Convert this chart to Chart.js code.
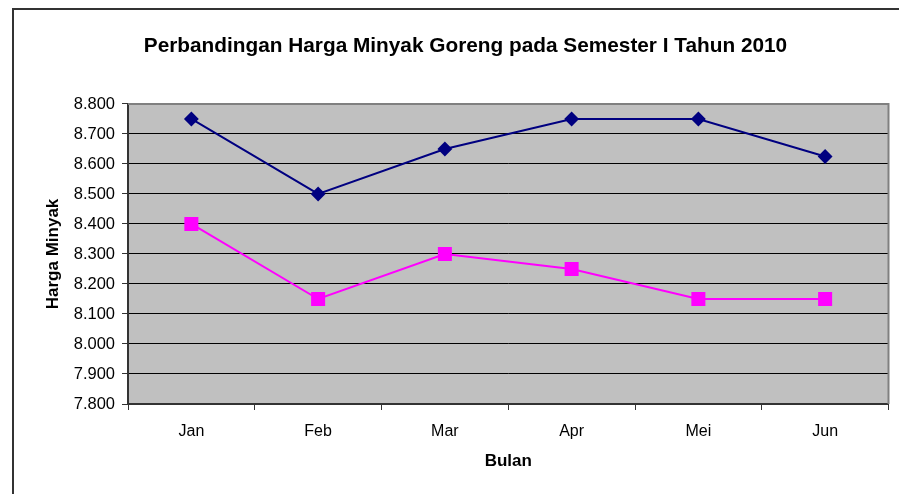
<!DOCTYPE html>
<html>
<head>
<meta charset="utf-8">
<script src="https://cdn.jsdelivr.net/npm/chart.js@4"></script>
<style>
  html, body { margin: 0; padding: 0; background: #fff; }
  #wrap { width: 899px; height: 494px; position: relative; }
</style>
</head>
<body>
<div id="wrap"><canvas id="linechart" width="899" height="494"></canvas></div>
<script>
const bulan = ['Jan', 'Feb', 'Mar', 'Apr', 'Mei', 'Jun']
const hargaSeri1 = [8750, 8500, 8650, 8750, 8750, 8625]
const hargaSeri2 = [8400, 8150, 8300, 8250, 8150, 8150]
const yMin = 7800
const yMax = 8800
const yStep = 100

const fontArial = '"Liberation Sans", Arial, sans-serif'

// 8800 -> "8.800"
function titikRibuan(v)
{
  return String(Math.round(v)).replace(/\B(?=(\d{3})+(?!\d))/g, '.')
}

const latarPlot = {
  id: 'latarPlot',
  beforeDraw(chart) {
    const c = chart.ctx
    const a = chart.chartArea
    c.save()
    // outer frame
    c.strokeStyle = '#333333'
    c.lineWidth = 2
    c.beginPath()
    c.moveTo(13, 494)
    c.lineTo(13, 9)
    c.lineTo(899, 9)
    c.stroke()
    // grey plot area
    c.fillStyle = '#c0c0c0'
    c.fillRect(a.left, a.top, a.right - a.left, a.bottom - a.top)
    c.restore()
  },
  beforeDatasetsDraw(chart) {
    const c = chart.ctx
    const a = chart.chartArea
    c.save()
    c.strokeStyle = '#808080'
    c.lineWidth = 2
    c.beginPath()
    c.moveTo(a.left, a.top)
    c.lineTo(a.right, a.top)
    c.lineTo(a.right, a.bottom)
    c.stroke()
    c.restore()
  }
}

const ctx = document.getElementById('linechart')

new Chart(ctx, {
  type: 'line',
  data: {
    labels: bulan,
    datasets: [{
      label: 'Seri 1',
      data: hargaSeri1,
      borderColor: '#000080',
      backgroundColor: '#000080',
      borderWidth: 2,
      pointStyle: 'rectRot',
      pointRadius: 6,
      pointHoverRadius: 6,
      tension: 0
    }, {
      label: 'Seri 2',
      data: hargaSeri2,
      borderColor: '#ff00ff',
      backgroundColor: '#ff00ff',
      borderWidth: 2,
      pointStyle: 'rect',
      pointRadius: 8.5,
      pointHoverRadius: 8.5,
      tension: 0
    }]
  },
  options: {
    responsive: false,
    animation: false,
    layout: { padding: { left: 40, right: 8, top: 0, bottom: 0 } },
    plugins: {
      legend: { display: false },
      tooltip: { enabled: false },
      title: {
        display: true,
        text: 'Perbandingan Harga Minyak Goreng pada Semester I Tahun 2010',
        color: '#000',
        font: { family: fontArial, size: 20.8, weight: 'bold' },
        padding: { top: 34, bottom: 45 }
      }
    },
    scales: {
      x: {
        offset: true,
        grid: { offset: true, drawOnChartArea: false, drawTicks: true, tickLength: 6, color: '#333' },
        border: { color: '#333', width: 2 },
        ticks: { color: '#000', padding: 12, font: { family: fontArial, size: 16 } },
        title: {
          display: true, text: 'Bulan', color: '#000',
          font: { family: fontArial, size: 17, weight: 'bold' },
          padding: { top: 10, bottom: 22 }
        },
        afterFit(s) { s.height = 90 }
      },
      y: {
        min: yMin,
        max: yMax,
        ticks: {
          stepSize: yStep,
          color: '#000',
          padding: 7,
          font: { family: fontArial, size: 16.5 },
          callback: v => titikRibuan(v)
        },
        grid: { color: '#000', lineWidth: 1, tickLength: 6, tickColor: '#333' },
        border: { color: '#333', width: 2 },
        title: {
          display: true, text: 'Harga Minyak', color: '#000',
          font: { family: fontArial, size: 17, weight: 'bold' },
          padding: { top: 3, bottom: 0 }
        },
        afterFit(s) { s.width = 88 }
      }
    }
  },
  plugins: [latarPlot]
})
</script>
</body>
</html>
